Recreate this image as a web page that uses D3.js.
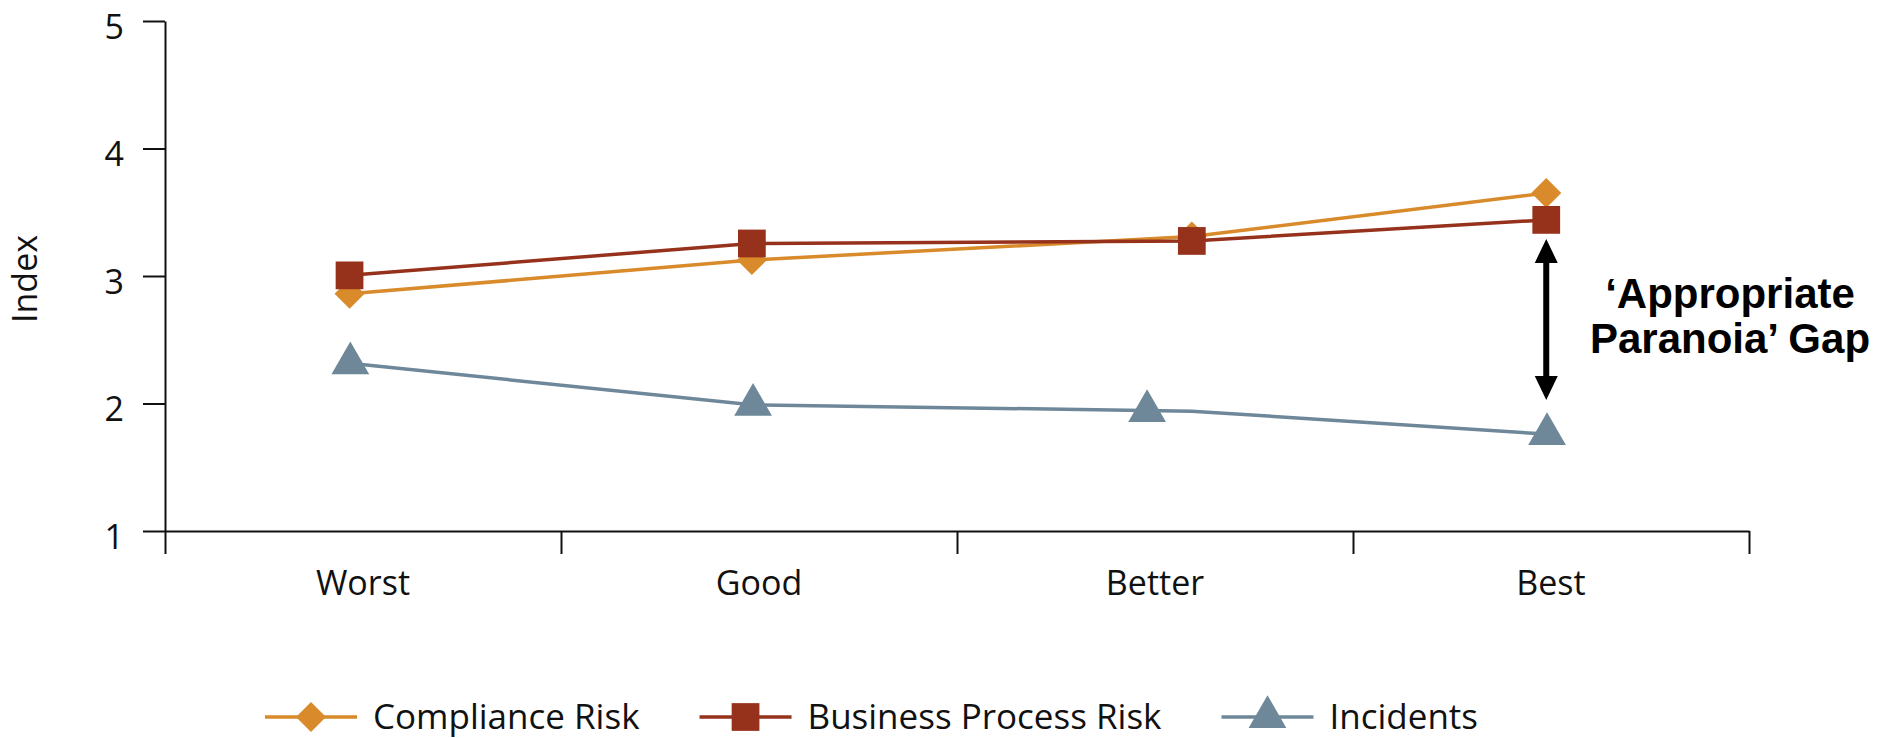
<!DOCTYPE html>
<html>
<head>
<meta charset="utf-8">
<script src="https://cdn.jsdelivr.net/npm/d3@7"></script>
<style>
  body { margin: 0; background: #fff; }
  svg text { font-family: "Open Sans", sans-serif; }
</style>
</head>
<body>
<script>
// categories and series
var categories = ["Worst", "Good", "Better", "Best"];
var yTicks = [1, 2, 3, 4, 5];

// where the markers sit along the x axis, in category units (0..4)
var lineX = [0.466, 1.482, 2.593, 3.488];
var incidentsMarkerX = [0.468, 1.485, 2.48, 3.49];

var complianceRisk = [2.86, 3.125, 3.31, 3.65];
var businessProcessRisk = [3.005, 3.255, 3.275, 3.44];
var incidents = [2.315, 1.99, 1.94, 1.76];

var seriesNames = ["Compliance Risk", "Business Process Risk", "Incidents"];

var width = 1888,
    height = 738;

var colors = {
  "Compliance Risk": "#d98a2a",
  "Business Process Risk": "#96311b",
  "Incidents": "#6e8899"
};

var series = [
  { name: seriesNames[0], values: complianceRisk, xs: lineX, markX: lineX, shape: "diamond" },
  { name: seriesNames[1], values: businessProcessRisk, xs: lineX, markX: lineX, shape: "square" },
  { name: seriesNames[2], values: incidents, xs: lineX, markX: incidentsMarkerX, shape: "triangle" }
];

var svg = d3.select("body").append("svg")
    .attr("width", width)
    .attr("height", height);

var x = d3.scaleLinear().domain([0, categories.length]).range([165, 1749]);
var xBand = d3.scaleBand().domain(categories).range([165, 1749]);
var y = d3.scaleLinear().domain([1, 5]).range([531, 21]);

// x axis: ticks on the category boundaries
svg.append("g")
    .attr("transform", "translate(0," + y(1) + ")")
    .call(d3.axisBottom(x).tickValues(d3.range(0, categories.length + 1)).tickSize(23).tickSizeOuter(0).tickFormat(""));

var xLabels = svg.append("g")
    .attr("transform", "translate(0," + y(1) + ")")
    .call(d3.axisBottom(xBand).tickSize(0).tickPadding(40));
xLabels.select(".domain").remove();

var yAxis = svg.append("g")
    .attr("transform", "translate(" + x(0) + ",0)")
    .call(d3.axisLeft(y).tickValues(yTicks).tickSize(22).tickSizeOuter(0).tickPadding(19).tickFormat(d3.format("d")));
yAxis.selectAll(".tick text").attr("dy", "0.5em");

svg.selectAll(".domain, .tick line")
    .attr("stroke", "#111")
    .attr("stroke-width", 2);
svg.selectAll(".tick text")
    .attr("fill", "#111")
    .style("font-size", "34px")
    .style("font-family", "'Open Sans', sans-serif");

svg.append("text")
    .attr("transform", "translate(37," + (y(3) + 3) + ") rotate(-90)")
    .attr("text-anchor", "middle")
    .attr("fill", "#111")
    .style("font-size", "34px")
    .text("Index");

function symbolFor(shape) {
  if (shape === "square") return d3.symbol().type(d3.symbolSquare).size(770)();
  if (shape === "triangle") return d3.symbol().type(d3.symbolTriangle).size(617)();
  return d3.symbol().type(d3.symbolSquare).size(450)();
}

var line = d3.line()
    .x(function(d) { return x(d[0]); })
    .y(function(d) { return y(d[1]); });

var g = svg.selectAll(".series")
    .data(series)
  .enter().append("g")
    .attr("class", "series");

g.append("path")
    .attr("fill", "none")
    .attr("stroke", function(d) { return colors[d.name]; })
    .attr("stroke-width", 3.5)
    .attr("d", function(d) { return line(d.values.map(function(v, i) { return [d.xs[i], v]; })); });

g.selectAll(".mark")
    .data(function(d) { return d.values.map(function(v, i) { return { x: d.markX[i], v: v, s: d }; }); })
  .enter().append("path")
    .attr("class", "mark")
    .attr("fill", function(d) { return colors[d.s.name]; })
    .attr("d", function(d) { return symbolFor(d.s.shape); })
    .attr("transform", function(d) {
      return "translate(" + x(d.x) + "," + y(d.v) + ")" + (d.s.shape === "diamond" ? " rotate(45)" : "");
    });

// the double headed arrow between business process risk and incidents at "Best"
var ax = x(lineX[3]),
    arrTop = y(businessProcessRisk[3]) + 19,
    arrBot = y(incidents[3]) - 34,
    hw = 11.5, hl = 24, sw = 3;
svg.append("path")
    .attr("fill", "#000")
    .attr("d", "M" + ax + "," + arrTop +
      "L" + (ax + hw) + "," + (arrTop + hl) + "L" + (ax + sw) + "," + (arrTop + hl) +
      "L" + (ax + sw) + "," + (arrBot - hl) + "L" + (ax + hw) + "," + (arrBot - hl) +
      "L" + ax + "," + arrBot +
      "L" + (ax - hw) + "," + (arrBot - hl) + "L" + (ax - sw) + "," + (arrBot - hl) +
      "L" + (ax - sw) + "," + (arrTop + hl) + "L" + (ax - hw) + "," + (arrTop + hl) + "Z");

var note = svg.append("text")
    .attr("text-anchor", "middle")
    .attr("fill", "#000")
    .style("font-family", "'Liberation Sans', Arial, sans-serif")
    .style("font-weight", "bold")
    .style("font-size", "42px");
note.append("tspan").attr("x", 1730).attr("y", 308).text("\u2018Appropriate");
note.append("tspan").attr("x", 1730).attr("y", 353).text("Paranoia\u2019 Gap");

// legend
var legend = svg.append("g").attr("transform", "translate(265,717)");
var lx = 0;
series.forEach(function(s) {
  var item = legend.append("g").attr("transform", "translate(" + lx + ",0)");
  item.append("line")
      .attr("x1", 0).attr("x2", 92)
      .attr("stroke", colors[s.name])
      .attr("stroke-width", 3.5);
  item.append("path")
      .attr("fill", colors[s.name])
      .attr("d", symbolFor(s.shape))
      .attr("transform", "translate(46,0)" + (s.shape === "diamond" ? " rotate(45)" : ""));
  var t = item.append("text")
      .attr("x", 108)
      .attr("dy", "0.35em")
      .attr("fill", "#111")
      .style("font-size", "35px")
      .text(s.name);
  lx += 108 + t.node().getComputedTextLength() + 60;
});
</script>
</body>
</html>
